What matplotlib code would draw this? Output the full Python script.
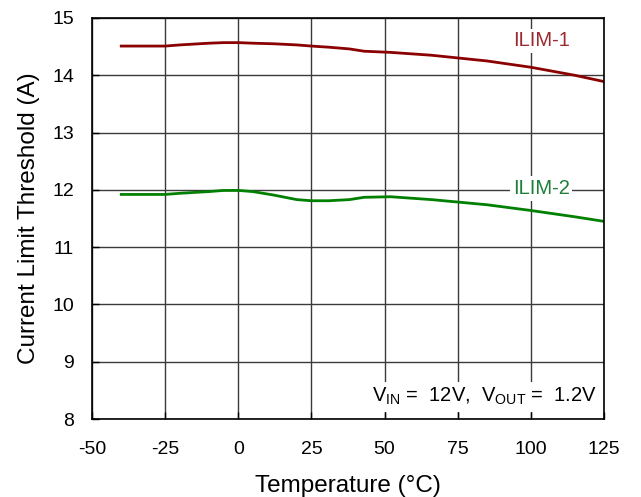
import matplotlib
matplotlib.use("Agg")
import matplotlib.pyplot as plt
from matplotlib.patches import Rectangle

plt.rcParams['font.family'] = ['Liberation Sans', 'DejaVu Sans']
plt.rcParams['mathtext.fontset'] = 'custom'
plt.rcParams['mathtext.rm'] = 'Liberation Sans'
plt.rcParams['axes.unicode_minus'] = False

# temperature (degC) and current limit (A)
temp = [-40, -25, -20, -10, -5, 0, 5, 12, 20, 25, 31, 38, 43, 52, 66, 85, 100, 115, 125]
ilim1 = [14.51, 14.51, 14.53, 14.56, 14.57, 14.57, 14.56, 14.55, 14.53, 14.51, 14.49,
         14.46, 14.42, 14.40, 14.35, 14.25, 14.14, 14.00, 13.89]
ilim2 = [11.92, 11.92, 11.94, 11.97, 11.99, 11.99, 11.97, 11.91, 11.83, 11.81, 11.81,
         11.83, 11.87, 11.88, 11.83, 11.74, 11.64, 11.53, 11.45]

xticks = [-50, -25, 0, 25, 50, 75, 100, 125]
yticks = [8, 9, 10, 11, 12, 13, 14, 15]

fig = plt.figure(figsize=(6.41, 4.97), dpi=100)
ax = fig.add_axes([0.1435, 0.1569, 0.7988, 0.8069])

ax.plot(temp, ilim1, color='#8b0000', lw=2.0, zorder=3)
ax.plot(temp, ilim2, color='#008000', lw=2.0, zorder=3)

ax.set_xlim(-50, 125)
ax.set_ylim(8, 15)
ax.set_xticks(xticks)
ax.set_yticks(yticks)
ax.tick_params(direction='in', length=5, width=1, labelsize=14, colors='black')
ax.tick_params(axis='x', pad=16)
ax.tick_params(axis='y', pad=13)
ax.grid(True, color='#3a3a3a', lw=1.0, zorder=1)
ax.set_axisbelow(True)
for s in ax.spines.values():
    s.set_linewidth(1.2)
    s.set_zorder(4)

ax.set_xlabel('Temperature (°C)', fontsize=17.5, labelpad=12)
ax.set_ylabel('Current Limit Threshold (A)', fontsize=17.5, labelpad=9)

box = dict(facecolor='white', edgecolor='none', pad=2)
ax.text(103.5, 14.6, 'ILIM-1', color='#9b2a30', fontsize=14.5, ha='center', va='center',
        bbox=box, zorder=2)
ax.text(103.5, 12.02, 'ILIM-2', color='#1e7f3a', fontsize=14.5, ha='center', va='center',
        bbox=box, zorder=2)

ax.add_patch(Rectangle((0.543, 0.0175), 0.455, 0.0745, transform=ax.transAxes,
                       facecolor='white', edgecolor='none', zorder=2))
ax.text(0.986, 0.057, r'V$_{\mathrm{IN}}$ =  12V,  V$_{\mathrm{OUT}}$ =  1.2V',
        transform=ax.transAxes, ha='right', va='center', fontsize=14.5, zorder=3)

fig.savefig('out.png', dpi=100)
